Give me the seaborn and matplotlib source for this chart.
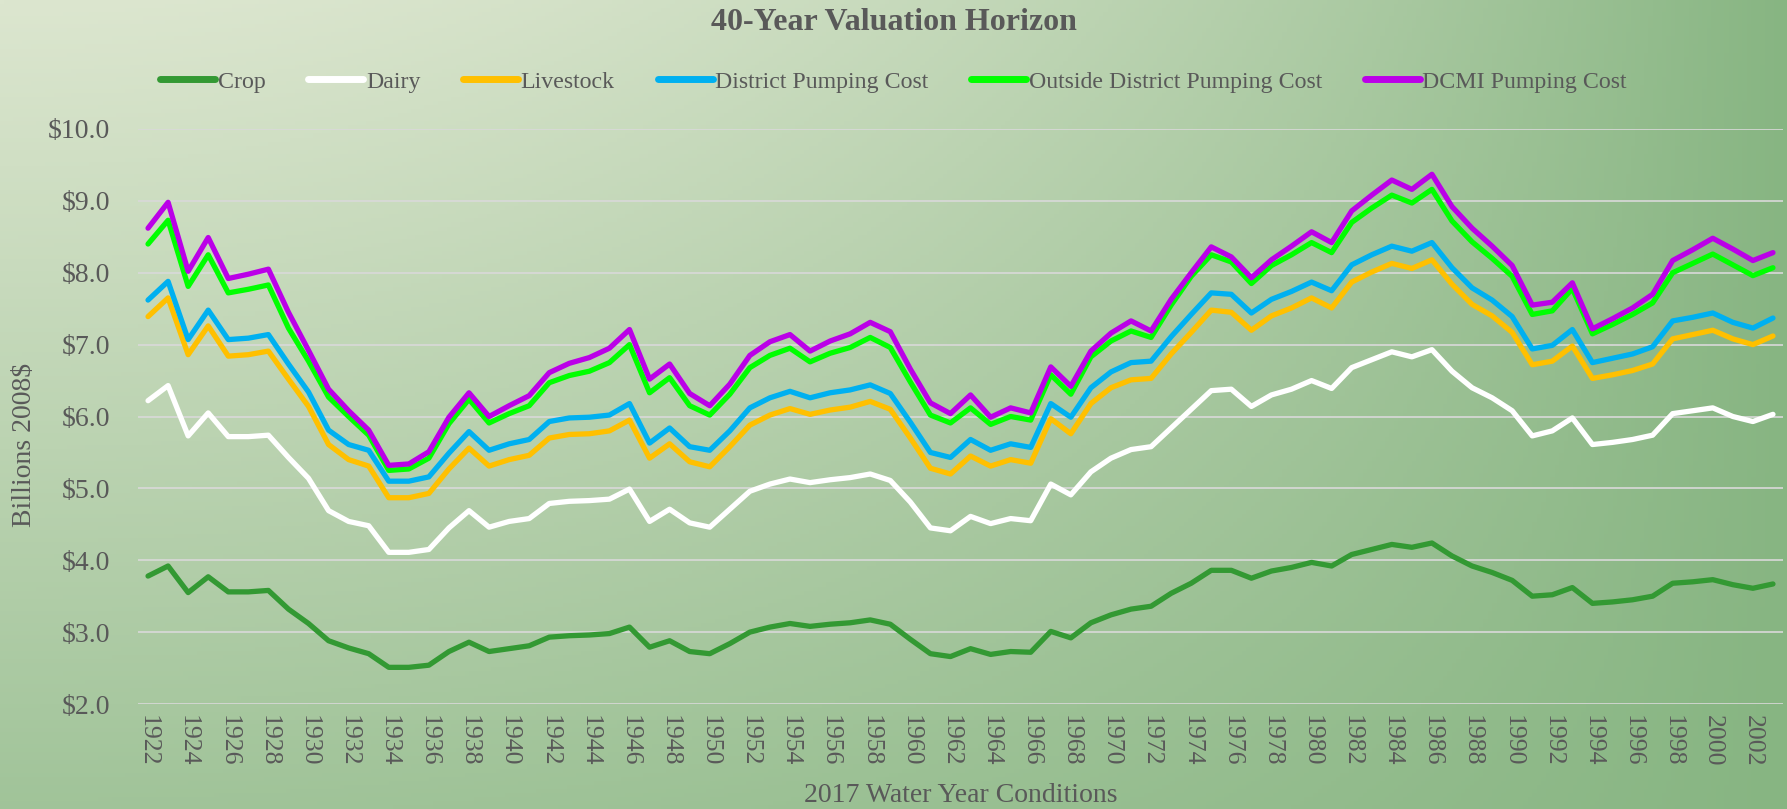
import numpy as np
import pandas as pd
import matplotlib
matplotlib.use("Agg")
import matplotlib.pyplot as plt
import seaborn as sns

years = list(range(1922, 2004))

crop = [3.78, 3.92, 3.55, 3.77, 3.56, 3.56, 3.58, 3.32, 3.12, 2.88,
        2.78, 2.70, 2.51, 2.51, 2.54, 2.73, 2.86, 2.73, 2.77, 2.81,
        2.93, 2.95, 2.96, 2.98, 3.07, 2.79, 2.88, 2.73, 2.70, 2.84,
        3.00, 3.07, 3.12, 3.08, 3.11, 3.13, 3.17, 3.11, 2.90, 2.70,
        2.66, 2.77, 2.69, 2.73, 2.72, 3.01, 2.92, 3.13, 3.24, 3.32,
        3.36, 3.54, 3.68, 3.86, 3.86, 3.75, 3.85, 3.90, 3.97, 3.92,
        4.08, 4.15, 4.22, 4.18, 4.24, 4.06, 3.92, 3.83, 3.72, 3.50,
        3.52, 3.62, 3.40, 3.42, 3.45, 3.50, 3.68, 3.70, 3.73, 3.66,
        3.61, 3.67]

dairy = [6.22, 6.43, 5.73, 6.05, 5.72, 5.72, 5.74, 5.43, 5.14, 4.69,
         4.54, 4.48, 4.11, 4.11, 4.15, 4.45, 4.69, 4.46, 4.54, 4.58,
         4.79, 4.82, 4.83, 4.85, 4.99, 4.54, 4.71, 4.52, 4.46, 4.71,
         4.96, 5.06, 5.13, 5.08, 5.12, 5.15, 5.20, 5.11, 4.81, 4.45,
         4.41, 4.61, 4.51, 4.58, 4.55, 5.06, 4.91, 5.23, 5.42, 5.54,
         5.58, 5.84, 6.10, 6.36, 6.38, 6.14, 6.30, 6.38, 6.50, 6.39,
         6.68, 6.79, 6.90, 6.83, 6.93, 6.63, 6.40, 6.26, 6.08, 5.73,
         5.80, 5.98, 5.61, 5.64, 5.68, 5.74, 6.04, 6.08, 6.12, 6.00,
         5.93, 6.03]

livestock = [7.39, 7.65, 6.86, 7.26, 6.84, 6.86, 6.91, 6.52, 6.14, 5.61,
             5.40, 5.31, 4.87, 4.87, 4.93, 5.27, 5.56, 5.31, 5.40, 5.46,
             5.70, 5.75, 5.76, 5.80, 5.95, 5.42, 5.62, 5.37, 5.30, 5.58,
             5.88, 6.02, 6.11, 6.03, 6.09, 6.13, 6.21, 6.10, 5.70, 5.28,
             5.20, 5.45, 5.31, 5.40, 5.35, 5.97, 5.76, 6.18, 6.40, 6.51,
             6.53, 6.87, 7.17, 7.48, 7.45, 7.20, 7.40, 7.51, 7.65, 7.51,
             7.87, 8.01, 8.13, 8.06, 8.18, 7.84, 7.56, 7.40, 7.17, 6.72,
             6.77, 6.98, 6.53, 6.58, 6.64, 6.73, 7.08, 7.14, 7.20, 7.08,
             7.00, 7.12]

district = [7.62, 7.88, 7.07, 7.48, 7.07, 7.09, 7.14, 6.73, 6.34, 5.81,
            5.61, 5.53, 5.10, 5.10, 5.16, 5.49, 5.79, 5.53, 5.62, 5.68,
            5.93, 5.98, 5.99, 6.02, 6.18, 5.63, 5.84, 5.58, 5.53, 5.80,
            6.12, 6.26, 6.35, 6.26, 6.33, 6.37, 6.44, 6.32, 5.92, 5.50,
            5.43, 5.68, 5.53, 5.62, 5.57, 6.18, 5.99, 6.40, 6.62, 6.75,
            6.77, 7.11, 7.42, 7.72, 7.70, 7.44, 7.63, 7.74, 7.87, 7.75,
            8.11, 8.25, 8.37, 8.30, 8.42, 8.07, 7.79, 7.62, 7.39, 6.94,
            6.99, 7.21, 6.75, 6.81, 6.87, 6.97, 7.33, 7.38, 7.44, 7.31,
            7.23, 7.37]

outside = [8.40, 8.73, 7.81, 8.25, 7.72, 7.77, 7.83, 7.23, 6.77, 6.27,
           6.00, 5.74, 5.25, 5.27, 5.42, 5.90, 6.24, 5.91, 6.04, 6.15,
           6.47, 6.57, 6.63, 6.75, 7.00, 6.33, 6.54, 6.15, 6.02, 6.31,
           6.68, 6.85, 6.95, 6.76, 6.88, 6.96, 7.10, 6.96, 6.48, 6.02,
           5.91, 6.12, 5.89, 6.00, 5.95, 6.58, 6.31, 6.83, 7.05, 7.19,
           7.10, 7.55, 7.95, 8.25, 8.15, 7.85, 8.10, 8.25, 8.42, 8.28,
           8.70, 8.90, 9.08, 8.97, 9.16, 8.72, 8.43, 8.20, 7.95, 7.42,
           7.47, 7.78, 7.15, 7.28, 7.42, 7.58, 8.00, 8.13, 8.26, 8.11,
           7.96, 8.07]

dcmi = [8.62, 8.98, 8.02, 8.49, 7.92, 7.98, 8.05, 7.45, 6.92, 6.38,
        6.08, 5.81, 5.32, 5.34, 5.51, 5.99, 6.33, 6.00, 6.15, 6.29,
        6.61, 6.74, 6.82, 6.95, 7.21, 6.52, 6.73, 6.32, 6.15, 6.45,
        6.85, 7.04, 7.14, 6.91, 7.05, 7.15, 7.31, 7.18, 6.66, 6.19,
        6.04, 6.30, 5.99, 6.12, 6.05, 6.69, 6.42, 6.91, 7.16, 7.33,
        7.19, 7.63, 8.00, 8.36, 8.22, 7.93, 8.18, 8.37, 8.57, 8.42,
        8.86, 9.08, 9.29, 9.16, 9.37, 8.92, 8.62, 8.37, 8.10, 7.55,
        7.59, 7.86, 7.22, 7.36, 7.51, 7.70, 8.17, 8.32, 8.48, 8.33,
        8.17, 8.28]

series_names = ["Crop", "Dairy", "Livestock", "District Pumping Cost",
                "Outside District Pumping Cost", "DCMI Pumping Cost"]
colors = ["#339933", "#FFFFFF", "#FFC000", "#00B0F0", "#00FF00", "#BB00E8"]

df = pd.DataFrame({"year": years, "Crop": crop, "Dairy": dairy, "Livestock": livestock,
                   "District Pumping Cost": district,
                   "Outside District Pumping Cost": outside,
                   "DCMI Pumping Cost": dcmi})
long = df.melt(id_vars="year", var_name="series", value_name="value")

sns.set_style("white")
plt.rcParams["font.family"] = ["Liberation Serif", "DejaVu Serif"]
txt = "#595959"

fig = plt.figure(figsize=(17.87, 8.09), dpi=100)

# background gradient
h, w = 200, 400
xn = np.linspace(0, 1, w)[None, :]
yn = np.linspace(0, 1, h)[:, None]
tx = xn ** 2
ty = 0.7 * yn
t = 1 - (1 - tx) * (1 - ty)
c0 = np.array([220, 230, 207]) / 255
c1 = np.array([135, 181, 130]) / 255
img = c0[None, None, :] * (1 - t[..., None]) + c1[None, None, :] * t[..., None]
bg = fig.add_axes([0, 0, 1, 1], zorder=0)
bg.imshow(img, aspect="auto", extent=[0, 1, 0, 1], origin="upper")
bg.axis("off")

ax_l, ax_r = 138 / 1787, 1783 / 1787
ax = fig.add_axes([ax_l, 1 - 704 / 809, ax_r - ax_l, (704 - 129) / 809], zorder=1)
ax.set_facecolor("none")

sns.lineplot(data=long, x="year", y="value", hue="series", hue_order=series_names,
             palette=colors, linewidth=3.8, ax=ax, legend=False,
             solid_joinstyle="round", solid_capstyle="round")

ax.set_xlim(1921.5, 2003.5)
ax.set_ylim(2, 10)
ax.set_yticks(np.arange(2, 10.01, 1))
ax.set_yticklabels([f"${v:.1f}" for v in np.arange(2, 10.01, 1)])
ax.set_xticks(list(range(1922, 2003, 2)))
ax.set_xticklabels([str(y) for y in range(1922, 2003, 2)], rotation=270)
ax.tick_params(axis="both", length=0, colors=txt)
ax.tick_params(axis="y", pad=20, labelsize=20)
ax.tick_params(axis="x", pad=8, labelsize=18.5)
ax.grid(axis="y", color="#D9D9D9", linewidth=1.2)
ax.grid(axis="x", visible=False)
ax.set_axisbelow(True)
for s in ax.spines.values():
    s.set_visible(False)
ax.set_xlabel("")
ax.set_ylabel("")

fig.text(0.5, 1 - 23 / 809, "40-Year Valuation Horizon", ha="center", va="center",
         fontsize=23, fontweight="bold", color=txt)
fig.text(25 / 1787, 1 - 445 / 809, "Billions 2008$", rotation=90, ha="center", va="center",
         fontsize=20, color=txt)
fig.text((ax_l + ax_r) / 2, 1 - 796 / 809, "2017 Water Year Conditions", ha="center", va="center",
         fontsize=20, color=txt)

handles = [plt.Line2D([], [], color=c, linewidth=5, solid_capstyle="round") for c in colors]
fig.legend(handles, series_names, loc="center", bbox_to_anchor=(0.5, 1 - 82 / 809),
           ncol=6, frameon=False, fontsize=17.2, labelcolor=txt, handlelength=2.3,
           handletextpad=0.1, columnspacing=1.8)

fig.savefig("out.png", dpi=100)
